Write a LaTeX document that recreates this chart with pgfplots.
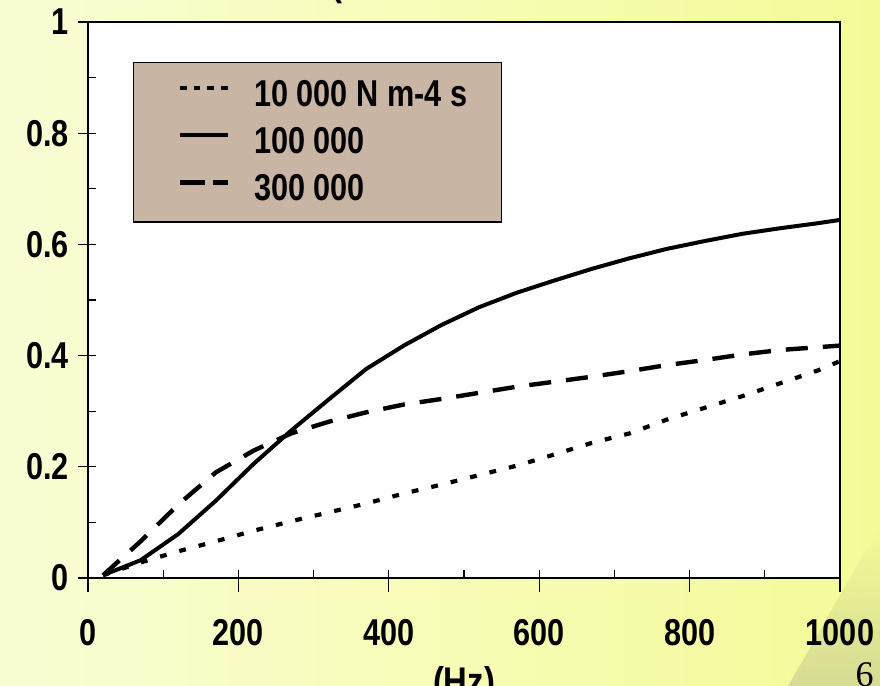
\documentclass[border=0pt]{standalone}
\usepackage{fontspec}
\setmainfont{Liberation Sans}[FakeStretch=0.82]
\newfontfamily\serifnum{Liberation Serif}
\usepackage{pgfplots}
\usepackage{pgfplotstable}
\pgfplotsset{compat=1.18}
\definecolor{legfill}{RGB}{201,181,163}
\definecolor{bgleft}{RGB}{250,253,212}
\definecolor{bgright}{RGB}{243,251,152}

\pgfplotstableread{
f a
20 0.005
70 0.028
120 0.048
170 0.066
220 0.085
270 0.102
320 0.118
370 0.134
420 0.152
470 0.168
520 0.185
570 0.202
620 0.222
670 0.243
720 0.260
770 0.285
820 0.306
870 0.327
920 0.350
970 0.373
1000 0.390
}\dataA

\pgfplotstableread{
f a
20 0.005
70 0.032
120 0.079
170 0.139
220 0.205
270 0.265
320 0.321
370 0.376
420 0.418
470 0.455
520 0.487
570 0.513
620 0.535
670 0.556
720 0.575
770 0.592
820 0.606
870 0.619
920 0.629
970 0.638
1000 0.644
}\dataB

\pgfplotstableread{
f a
20 0.005
70 0.066
120 0.132
170 0.190
220 0.229
270 0.260
320 0.281
370 0.298
420 0.312
470 0.322
520 0.333
570 0.344
620 0.353
670 0.362
720 0.372
770 0.383
820 0.392
870 0.402
920 0.410
970 0.415
1000 0.418
}\dataC

\begin{document}
\begin{tikzpicture}
\useasboundingbox (0,0) rectangle (440pt,343pt);
\clip (0,0) rectangle (440pt,343pt);
\shade[left color=bgleft, right color=bgright] (0,0) rectangle (440pt,343pt);
\shade[top color=bgright, bottom color=gray!50!bgright, opacity=0.5]
  (394pt,0pt) -- (440pt,80pt) -- (440pt,0pt) -- cycle;
\node[anchor=base, inner sep=0pt, font=\bfseries\fontsize{20}{24}\selectfont] at (168.5pt,345pt) {(};
\node[anchor=north, inner sep=0pt, font=\bfseries\fontsize{20}{24}\selectfont] at (232pt,10pt) {(Hz)};
\node[anchor=north east, inner sep=0pt, font=\serifnum\fontsize{18}{20}\selectfont] at (437pt,12pt) {6};
\begin{axis}[
  at={(44pt,54pt)}, anchor=south west, scale only axis,
  width=376pt, height=278pt,
  xmin=0, xmax=1000, ymin=0, ymax=1,
  axis background/.style={fill=white},
  axis line style={black, line width=0.7pt},
  tick pos=left,
  xtick={0,200,400,600,800,1000}, xticklabels={0,200,400,600,800,1000},
  ytick={0,0.2,0.4,0.6,0.8,1}, yticklabels={0,0.2,0.4,0.6,0.8,1},
  minor x tick num=1, minor y tick num=1,
  tick align=inside, major tick length=4pt, minor tick length=4pt,
  tick style={black, line width=0.6pt},
  extra x ticks={0,200,400,600,800,1000}, extra x tick labels={},
  extra y ticks={0,0.2,0.4,0.6,0.8,1}, extra y tick labels={},
  extra x tick style={tick align=outside, major tick length=7pt},
  extra y tick style={tick align=outside, major tick length=5pt},
  /pgf/number format/assume math mode=true,
  xticklabel style={font=\bfseries\fontsize{18.7}{22}\selectfont, yshift=-17pt},
  yticklabel style={font=\bfseries\fontsize{18.7}{22}\selectfont, xshift=-6pt},
  legend cell align=left,
  legend style={at={(rel axis cs:0.06,0.928)}, anchor=north west,
    fill=legfill, draw=black, line width=0.6pt,
    inner xsep=17pt, inner ysep=9pt, row sep=9pt, column sep=0pt,
    nodes={inner sep=0pt},
    font=\bfseries\fontsize{18.7}{22}\selectfont},
]
\addplot[black, line width=2.1pt, dash pattern=on 3.4pt off 6.6pt,
  legend image code/.code={\path (-5pt,0pt) (36pt,0pt);
    \draw[black, line width=2.3pt, dash pattern=on 3.4pt off 3.4pt] (0pt,0.35em) -- (24pt,0.35em);}]
  table[x=f, y=a] {\dataA};
\addlegendentry{10 000 N m-4 s}
\addplot[black, line width=2pt, line join=round,
  legend image code/.code={\path (-5pt,0pt) (36pt,0pt);
    \draw[black, line width=2pt] (0pt,0.35em) -- (24pt,0.35em);}]
  table[x=f, y=a] {\dataB};
\addlegendentry{100 000}
\addplot[black, line width=2.2pt, dash pattern=on 11pt off 7.5pt,
  legend image code/.code={\path (-5pt,0pt) (36pt,0pt);
    \draw[black, line width=2.2pt, dash pattern=on 12.5pt off 4pt] (0pt,0.35em) -- (24pt,0.35em);}]
  table[x=f, y=a] {\dataC};
\addlegendentry{300 000}
\end{axis}
\end{tikzpicture}
\end{document}
